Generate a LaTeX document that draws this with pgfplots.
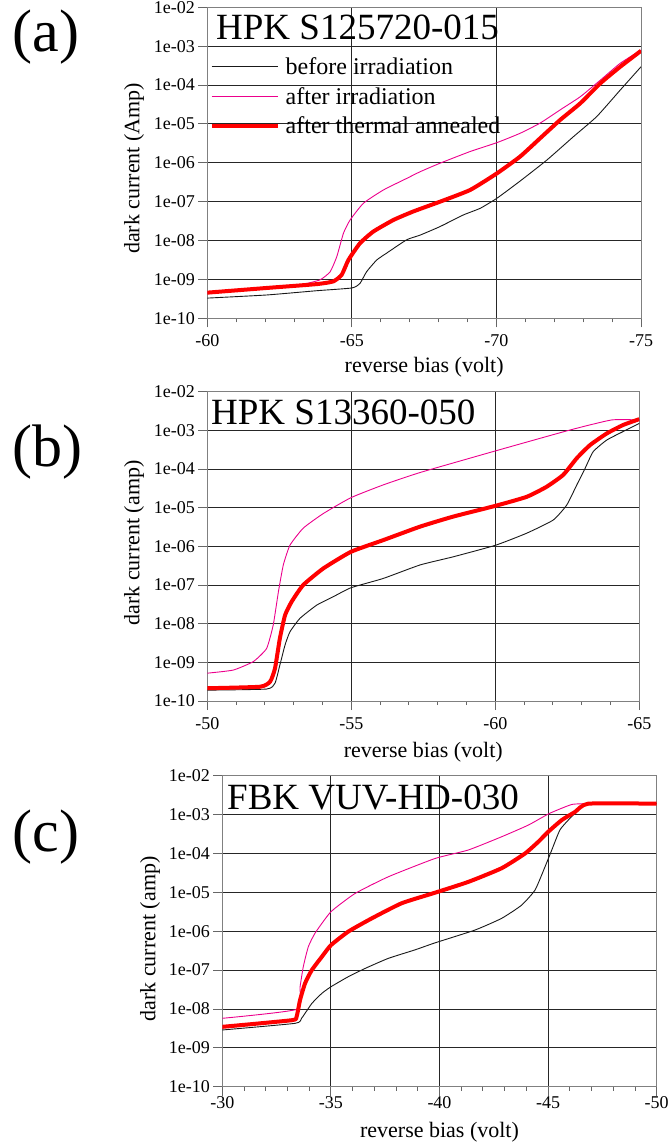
\documentclass[border=0pt]{standalone}
\usepackage{fontspec}
\setmainfont{Liberation Serif}
\usepackage{pgfplots}
\pgfplotsset{compat=1.18}
\pgfplotsset{
  every axis/.append style={
    scale only axis,
    x dir=reverse,
    yminorticks=false,
    minor x tick num=4,
    tick align=outside,
    major tick length=9pt,
    minor tick length=4pt,
    xmajorgrids, ymajorgrids,
    major grid style={black!85, line width=0.9pt},
    axis line style={black!50, line width=0.9pt},
    tick style={black!60, line width=0.9pt},
    tick label style={font=\fontsize{18}{18}\selectfont},
    label style={font=\fontsize{22}{22}\selectfont},
  },
}
\tikzset{
  blkline/.style={black!90, line width=0.9pt, line join=round, smooth, tension=0.3},
  magline/.style={color=magenta, line width=0.9pt, line join=round, smooth, tension=0.3},
  redline/.style={red, line width=4pt, line join=round, smooth, tension=0.3},
}

\begin{document}
\begin{tikzpicture}
\useasboundingbox (0,0) rectangle (671pt,-1147pt);

% ---------------- (a) ----------------
\begin{axis}[
  at={(207.3pt,-318.3pt)}, anchor=south west,
  width=433.7pt, height=311pt,
  ymode=log, ymin=1e-10, ymax=1e-2,
  ytick={1e-10,1e-9,1e-8,1e-7,1e-6,1e-5,1e-4,1e-3,1e-2},
  yticklabels={1e-10,1e-09,1e-08,1e-07,1e-06,1e-05,1e-04,1e-03,1e-02},
  xmin=-75, xmax=-60,
  xtick={-75,-70,-65,-60}, xticklabels={-75,-70,-65,-60},
  xtick pos=left, ytick pos=left,
  xticklabel style={yshift=-4pt},
  xlabel={reverse bias (volt)},
  ylabel={dark current (Amp)},
  xlabel style={at={(axis description cs:0.5,0)}, anchor=center, yshift=-48.7pt},
  ylabel style={at={(axis description cs:-0.169,0.482)}, anchor=center},
  legend style={at={(axis description cs:0.005,0.845)}, anchor=north west,
    draw=none, fill=none, font=\fontsize{24}{24}\selectfont,
    row sep=7pt, column sep=3.5pt, inner sep=0pt},
  legend cell align=left,
  legend image post style={xscale=3.9},
]
\addlegendimage{black!90, line width=0.9pt, sharp plot}
\addlegendentry{before irradiation}
\addlegendimage{color=magenta, line width=0.9pt, sharp plot}
\addlegendentry{after irradiation}
\addlegendimage{red, line width=4pt, sharp plot}
\addlegendentry{after thermal annealed}
\addplot[blkline, forget plot] coordinates {(-60,3.31e-10) (-62.05,3.98e-10) (-63.79,5.13e-10) (-65.0,6.03e-10) (-65.28,7.9e-10) (-65.51,1.58e-9) (-65.86,3.16e-9) (-66.21,4.79e-9) (-66.9,1.05e-8) (-67.36,1.38e-8) (-68.05,2.29e-8) (-68.86,4.57e-8) (-69.44,6.76e-8) (-70.02,1.23e-7) (-70.8,3.31e-7) (-71.74,1.17e-6) (-72.66,4.68e-6) (-73.47,1.55e-5) (-74.28,7.41e-5) (-75,2.95e-4)};
\addplot[magline, forget plot] coordinates {(-60,4.57e-10) (-62.05,6.03e-10) (-63.2,7.24e-10) (-63.9,9.77e-10) (-64.25,1.58e-9) (-64.48,3.89e-9) (-64.71,1.55e-8) (-64.94,3.39e-8) (-65.4,9.12e-8) (-66.09,2.0e-7) (-66.9,3.98e-7) (-67.36,5.89e-7) (-68.05,9.77e-7) (-69.09,1.95e-6) (-70.02,3.31e-6) (-70.82,5.75e-6) (-71.51,1.05e-5) (-72.2,2.29e-5) (-72.9,5.01e-5) (-73.6,1.35e-4) (-74.28,3.63e-4) (-75,7.94e-4)};
\addplot[redline, forget plot] coordinates {(-60,4.57e-10) (-62.05,6.03e-10) (-63.79,7.59e-10) (-64.36,8.91e-10) (-64.65,1.32e-9) (-64.88,3.16e-9) (-65.28,8.51e-9) (-65.74,1.70e-8) (-66.44,3.39e-8) (-67.13,5.62e-8) (-68.05,1.0e-7) (-69.09,2.0e-7) (-70.02,5.37e-7) (-70.82,1.45e-6) (-71.51,4.27e-6) (-72.2,1.26e-5) (-72.9,3.39e-5) (-73.6,1.12e-4) (-74.28,2.95e-4) (-75,7.59e-4)};
\end{axis}

% ---------------- (b) ----------------
\begin{axis}[
  at={(207.3pt,-701pt)}, anchor=south west,
  width=432pt, height=309.3pt,
  ymode=log, ymin=1e-10, ymax=1e-2,
  ytick={1e-10,1e-9,1e-8,1e-7,1e-6,1e-5,1e-4,1e-3,1e-2},
  yticklabels={1e-10,1e-09,1e-08,1e-07,1e-06,1e-05,1e-04,1e-03,1e-02},
  xmin=-65, xmax=-50,
  xtick={-65,-60,-55,-50}, xticklabels={-65,-60,-55,-50},
  xtick pos=left, ytick pos=left,
  xticklabel style={yshift=-4pt},
  xlabel={reverse bias (volt)},
  ylabel={dark current (amp)},
  xlabel style={at={(axis description cs:0.5,0)}, anchor=center, yshift=-51pt},
  ylabel style={at={(axis description cs:-0.1697,0.511)}, anchor=center},
]
\addplot[blkline] coordinates {(-50,1.91e-10) (-52.06,2.04e-10) (-52.35,2.88e-10) (-52.52,8.51e-10) (-52.7,2.82e-9) (-52.87,6.17e-9) (-53.22,1.38e-8) (-53.8,3.02e-8) (-54.38,5.01e-8) (-54.99,8.51e-8) (-56.11,1.48e-7) (-57.39,3.31e-7) (-58.54,5.37e-7) (-60.01,1.07e-6) (-61.09,2.19e-6) (-62.01,4.79e-6) (-62.48,1.17e-5) (-62.83,3.89e-5) (-63.12,1.05e-4) (-63.4,2.82e-4) (-63.87,5.62e-4) (-64.44,9.33e-4) (-65,1.51e-3)};
\addplot[magline] coordinates {(-50,5.25e-10) (-50.9,6.31e-10) (-51.6,1.05e-9) (-52.06,2.29e-9) (-52.29,9.33e-9) (-52.47,6.76e-8) (-52.64,3.31e-7) (-52.87,1.07e-6) (-53.33,2.95e-6) (-54.03,7.08e-6) (-54.99,1.82e-5) (-56.11,3.89e-5) (-57.39,8.13e-5) (-60.01,2.95e-4) (-62.59,1.02e-3) (-64.04,1.86e-3) (-65,1.86e-3)};
\addplot[redline] coordinates {(-50,2.14e-10) (-51.83,2.34e-10) (-52.18,3.16e-10) (-52.35,6.92e-10) (-52.52,4.17e-9) (-52.7,1.66e-8) (-52.93,3.72e-8) (-53.33,1.0e-7) (-54.03,2.69e-7) (-54.99,7.24e-7) (-56.11,1.45e-6) (-57.39,3.24e-6) (-58.54,5.89e-6) (-60.01,1.12e-5) (-61.09,1.91e-5) (-61.78,3.47e-5) (-62.36,7.08e-5) (-62.83,1.91e-4) (-63.29,4.17e-4) (-63.87,8.32e-4) (-64.44,1.38e-3) (-65,1.95e-3)};
\end{axis}

% ---------------- (c) ----------------
\begin{axis}[
  at={(222.3pt,-1086.7pt)}, anchor=south west,
  width=434.4pt, height=311pt,
  ymode=log, ymin=1e-10, ymax=1e-2,
  ytick={1e-10,1e-9,1e-8,1e-7,1e-6,1e-5,1e-4,1e-3,1e-2},
  yticklabels={1e-10,1e-09,1e-08,1e-07,1e-06,1e-05,1e-04,1e-03,1e-02},
  xmin=-50, xmax=-30,
  xtick={-50,-45,-40,-35,-30}, xticklabels={-50,-45,-40,-35,-30},
  xtick pos=left, ytick pos=left,
  xticklabel style={yshift=3pt},
  xlabel={reverse bias (volt)},
  ylabel={dark current (amp)},
  xlabel style={at={(axis description cs:0.5,0)}, anchor=center, yshift=-45.8pt},
  ylabel style={at={(axis description cs:-0.1664,0.475)}, anchor=center},
]
\addplot[blkline] coordinates {(-30,2.88e-9) (-33.35,4.27e-9) (-33.65,5.75e-9) (-34.12,1.38e-8) (-34.58,2.51e-8) (-35,3.72e-8) (-35.8,6.76e-8) (-36.57,1.10e-7) (-37.64,2.0e-7) (-38.87,3.31e-7) (-39.79,5.01e-7) (-41.63,1.07e-6) (-42.86,2.14e-6) (-43.78,4.68e-6) (-44.4,1.15e-5) (-44.86,4.57e-5) (-45.17,1.23e-4) (-45.55,4.07e-4) (-46.09,8.91e-4) (-46.85,1.91e-3) (-50,1.91e-3)};
\addplot[magline] coordinates {(-30,5.75e-9) (-33.42,9.77e-9) (-33.58,3.72e-8) (-33.73,1.23e-7) (-33.96,3.98e-7) (-34.27,8.91e-7) (-35,3.16e-6) (-36.11,9.33e-6) (-37.64,2.51e-5) (-39.79,7.41e-5) (-41.33,1.23e-4) (-42.86,2.69e-4) (-44.09,5.37e-4) (-45.06,1.07e-3) (-46.09,1.82e-3) (-46.85,1.91e-3)};
\addplot[redline] coordinates {(-30,3.47e-9) (-33.19,5.13e-9) (-33.42,6.31e-9) (-33.58,1.70e-8) (-33.81,4.57e-8) (-34.12,1.0e-7) (-34.58,2.19e-7) (-35,4.37e-7) (-35.8,9.77e-7) (-36.88,2.14e-6) (-38.26,5.25e-6) (-39.79,9.77e-6) (-41.33,1.86e-5) (-42.86,4.17e-5) (-43.94,1.0e-4) (-44.55,2.0e-4) (-45.01,3.63e-4) (-45.63,7.24e-4) (-46.24,1.17e-3) (-46.85,1.91e-3) (-50,1.91e-3)};
\end{axis}

% titles and panel labels
\node[anchor=base west, inner sep=0pt, font=\fontsize{37}{37}\selectfont] at (216pt,-40pt) {HPK S125720-015};
\node[anchor=base west, inner sep=0pt, font=\fontsize{37}{37}\selectfont] at (211pt,-424.3pt) {HPK S13360-050};
\node[anchor=base west, inner sep=0pt, font=\fontsize{37}{37}\selectfont] at (227pt,-809.3pt) {FBK VUV-HD-030};
\node[anchor=center, inner sep=0pt, font=\fontsize{60}{60}\selectfont] at (46pt,-36.7pt) {(a)};
\node[anchor=center, inner sep=0pt, font=\fontsize{60}{60}\selectfont] at (47.5pt,-452.5pt) {(b)};
\node[anchor=center, inner sep=0pt, font=\fontsize{60}{60}\selectfont] at (46pt,-836.7pt) {(c)};
\end{tikzpicture}
\end{document}
